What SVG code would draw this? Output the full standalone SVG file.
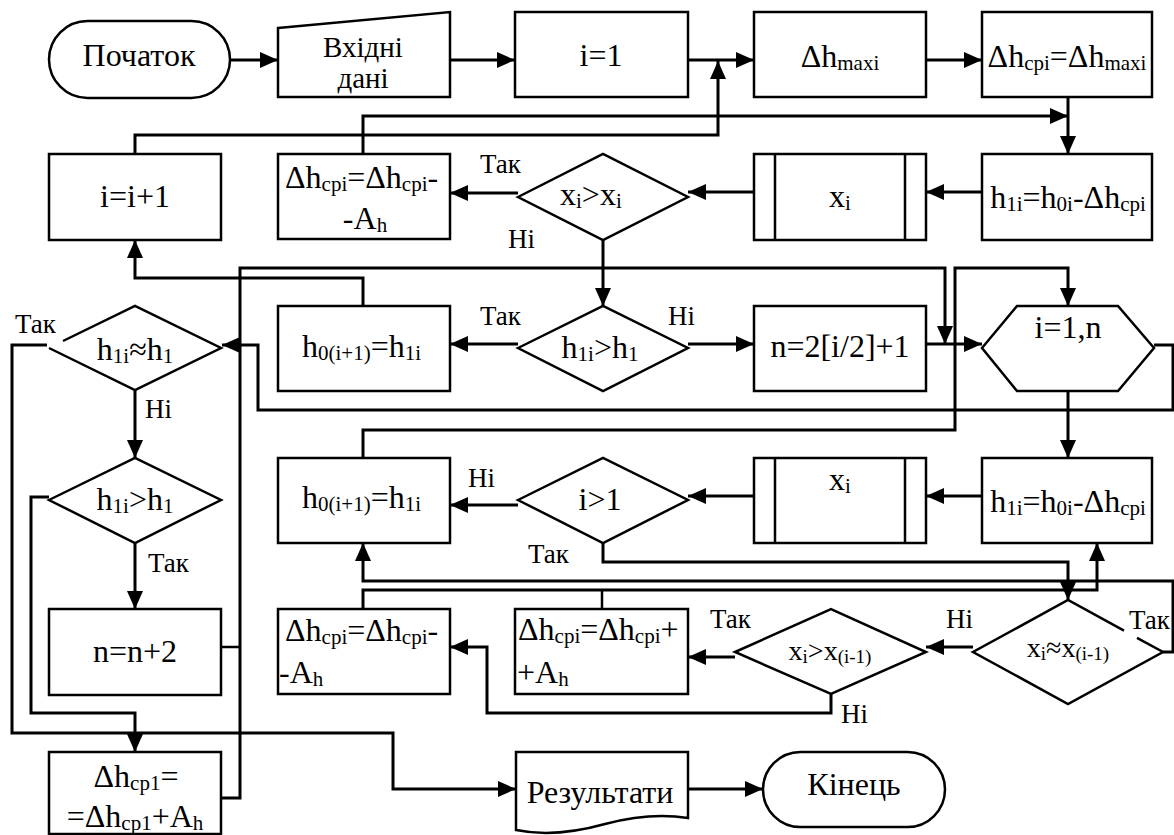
<svg xmlns="http://www.w3.org/2000/svg" width="1174" height="835" viewBox="0 0 1174 835">
  <style>
    .n { fill: #fff; stroke: #000; stroke-width: 2.5; }
    .c { fill: none; stroke: #000; stroke-width: 2.5; }
    .a { fill: none; stroke: #000; stroke-width: 3; marker-end: url(#ah); }
    .t { font-family: Liberation Serif, Times New Roman, Times, serif; font-size: 32px; fill: #000; }
    .m { text-anchor: middle; }
    .s { font-size: 21px; }
    .lb { font-size: 27px; }
    .sm { font-size: 28px; }
    .ss { font-size: 19px; }
  </style>
  <defs>
    <marker id="ah" markerUnits="userSpaceOnUse" markerWidth="18" markerHeight="16" refX="18" refY="8" orient="auto">
      <path d="M0,0 L18,8 L0,16 Z" fill="#000"/>
    </marker>
  </defs>

  <!-- connectors -->
  <g id="connectors">
    <path class="a" d="M230,60 H278"/>
    <path class="a" d="M450,60 H515"/>
    <path class="a" d="M688,60 H754"/>
    <path class="a" d="M926,60 H982"/>
    <path class="a" d="M135,154 V135 H718 V61"/>
    <path class="a" d="M1068,97 V154"/>
    <path class="a" d="M363,154 V116 H1068"/>
    <path class="a" d="M982,192 H926"/>
    <path class="a" d="M754,192 H688"/>
    <path class="a" d="M518,193 H450"/>
    <path class="a" d="M603,240 V306"/>
    <path class="a" d="M518,344 H450"/>
    <path class="a" d="M688,344 H754"/>
    <path class="a" d="M926,344 H982"/>
    <path class="a" d="M221,798 H240 V268 H945 V344"/>
    <path class="c" d="M221,647 H240"/>
    <path class="a" d="M363,458 V430 H955 V268 H1068 V306"/>
    <path class="a" d="M363,306 V278 H135 V240"/>
    <path class="a" d="M1154,345 H1173 V410 H258 V345 H222"/>
    <path class="a" d="M1068,391 V458"/>
    <path class="a" d="M982,496 H926"/>
    <path class="a" d="M754,496 H688"/>
    <path class="a" d="M518,505 H450"/>
    <path class="a" d="M603,543 V562 H1068 V600"/>
    <path class="a" d="M1163,652 H1173 V581 H363 V543"/>
    <path class="a" d="M363,609 V590 H1097 V543"/>
    <path class="c" d="M602,609 V590"/>
    <path class="a" d="M973,647 H926"/>
    <path class="a" d="M735,657 H688"/>
    <path class="a" d="M831,694 V713 H487 V647 H450"/>
    <path class="a" d="M135,390 V458"/>
    <path class="a" d="M135,543 V609"/>
    <path class="a" d="M47,345 H12 V733 H393 V789 H516"/>
    <path class="a" d="M49,497 H31 V713 H135 V752"/>
    <path class="a" d="M688,789 H763"/>
  </g>

  <!-- row 1 -->
  <g id="start">
    <rect class="n" x="49" y="21" width="181" height="77" rx="38.5"/>
    <text class="t m" x="139" y="66">Початок</text>
  </g>
  <g id="input">
    <path class="n" d="M278,28 L450,12 L450,97 L278,97 Z"/>
    <text class="t m" x="363" y="57" style="font-size:29px">Вхідні</text>
    <text class="t m" x="363" y="88" style="font-size:29px">дані</text>
  </g>
  <g id="init">
    <rect class="n" x="515" y="12" width="173" height="85"/>
    <text class="t m" x="601" y="66">i=1</text>
  </g>
  <g id="dhmax">
    <rect class="n" x="754" y="12" width="172" height="85"/>
    <text class="t m" x="840" y="67">Δh<tspan class="s" dy="3">maxi</tspan></text>
  </g>
  <g id="dhcp-set">
    <rect class="n" x="982" y="12" width="170" height="85"/>
    <text class="t m" x="1067" y="67">Δh<tspan class="s" dy="3">cpi</tspan><tspan dy="-3">=Δh</tspan><tspan class="s" dy="3">maxi</tspan></text>
  </g>

  <!-- row 2 -->
  <g id="inc-i">
    <rect class="n" x="49" y="154" width="172" height="86"/>
    <text class="t m" x="135" y="207">i=i+1</text>
  </g>
  <g id="dhcp-dec-1">
    <rect class="n" x="278" y="154" width="172" height="85"/>
    <text class="t" x="285" y="188">Δh<tspan class="s" dy="3">cpi</tspan><tspan dy="-3">=Δh</tspan><tspan class="s" dy="3">cpi</tspan><tspan dy="-3">-</tspan></text>
    <text class="t m" x="365" y="229">-A<tspan class="s" dy="3">h</tspan></text>
  </g>
  <g id="cmp-x-1">
    <polygon class="n" points="518,197 603,154 688,197 603,240"/>
    <text class="t" x="560" y="205">x<tspan class="s" dy="3">i</tspan><tspan dy="-3">&gt;x</tspan><tspan class="s" dy="3">i</tspan></text>
  </g>
  <g id="calc-x-1">
    <rect class="n" x="754" y="154" width="172" height="86"/>
    <path class="c" d="M775,154 V240 M905,154 V240"/>
    <text class="t m" x="840" y="207">x<tspan class="s" dy="3">i</tspan></text>
  </g>
  <g id="h1-1">
    <rect class="n" x="982" y="154" width="170" height="86"/>
    <text class="t m" x="1068" y="208">h<tspan class="s" dy="3">1i</tspan><tspan dy="-3">=h</tspan><tspan class="s" dy="3">0i</tspan><tspan dy="-3">-Δh</tspan><tspan class="s" dy="3">cpi</tspan></text>
  </g>

  <!-- row 3 -->
  <g id="cmp-h-approx">
    <path class="n" d="M63,341 L135,306 L221,348 L135,390 L49,348"/>
    <text class="t m" x="135" y="360">h<tspan class="s" dy="3">1i</tspan><tspan dy="-3">≈h</tspan><tspan class="s" dy="3">1</tspan></text>
  </g>
  <g id="h0-next-1">
    <rect class="n" x="278" y="306" width="172" height="85"/>
    <text class="t" x="302" y="357">h<tspan class="s" dy="3">0(i+1)</tspan><tspan dy="-3">=h</tspan><tspan class="s" dy="3">1i</tspan></text>
  </g>
  <g id="cmp-h-1">
    <polygon class="n" points="518,348 603,306 688,348 603,391"/>
    <text class="t m" x="600" y="358">h<tspan class="s" dy="3">1i</tspan><tspan dy="-3">&gt;h</tspan><tspan class="s" dy="3">1</tspan></text>
  </g>
  <g id="set-n">
    <rect class="n" x="754" y="306" width="172" height="85"/>
    <text class="t m" x="840" y="357">n=2[i/2]+1</text>
  </g>
  <g id="loop">
    <polygon class="n" points="982,348 1017,306 1118,306 1154,348 1118,391 1017,391"/>
    <text class="t m" x="1068" y="338">i=1,n</text>
  </g>

  <!-- row 4 -->
  <g id="cmp-h-2">
    <polygon class="n" points="49,500 135,458 221,500 135,543"/>
    <text class="t m" x="135" y="510">h<tspan class="s" dy="3">1i</tspan><tspan dy="-3">&gt;h</tspan><tspan class="s" dy="3">1</tspan></text>
  </g>
  <g id="h0-next-2">
    <rect class="n" x="278" y="458" width="172" height="85"/>
    <text class="t" x="302" y="508">h<tspan class="s" dy="3">0(i+1)</tspan><tspan dy="-3">=h</tspan><tspan class="s" dy="3">1i</tspan></text>
  </g>
  <g id="cmp-i">
    <polygon class="n" points="518,500 603,458 688,500 603,543"/>
    <text class="t m" x="600" y="510">i&gt;1</text>
  </g>
  <g id="calc-x-2">
    <rect class="n" x="754" y="458" width="172" height="85"/>
    <path class="c" d="M775,458 V543 M905,458 V543"/>
    <text class="t m" x="840" y="490">x<tspan class="s" dy="3">i</tspan></text>
  </g>
  <g id="h1-2">
    <rect class="n" x="982" y="458" width="170" height="85"/>
    <text class="t m" x="1068" y="512">h<tspan class="s" dy="3">1i</tspan><tspan dy="-3">=h</tspan><tspan class="s" dy="3">0i</tspan><tspan dy="-3">-Δh</tspan><tspan class="s" dy="3">cpi</tspan></text>
  </g>

  <!-- row 5 -->
  <g id="inc-n">
    <rect class="n" x="49" y="609" width="172" height="86"/>
    <text class="t m" x="135" y="662">n=n+2</text>
  </g>
  <g id="dhcp-dec-2">
    <rect class="n" x="278" y="609" width="172" height="85"/>
    <text class="t" x="285" y="641">Δh<tspan class="s" dy="3">cpi</tspan><tspan dy="-3">=Δh</tspan><tspan class="s" dy="3">cpi</tspan><tspan dy="-3">-</tspan></text>
    <text class="t" x="279" y="683">-A<tspan class="s" dy="3">h</tspan></text>
  </g>
  <g id="dhcp-inc">
    <rect class="n" x="515" y="609" width="173" height="85"/>
    <text class="t" x="518" y="640">Δh<tspan class="s" dy="3">cpi</tspan><tspan dy="-3">=Δh</tspan><tspan class="s" dy="3">cpi</tspan><tspan dy="-3">+</tspan></text>
    <text class="t" x="517" y="683">+A<tspan class="s" dy="3">h</tspan></text>
  </g>
  <g id="cmp-x-prev">
    <polygon class="n" points="735,652 831,609 926,652 831,694"/>
    <text class="t m sm" x="830" y="660">x<tspan class="ss" dy="3">i</tspan><tspan dy="-3">&gt;x</tspan><tspan class="ss" dy="3">(i-1)</tspan></text>
  </g>
  <g id="cmp-x-approx">
    <path class="n" d="M1137,637.8 L1163,652 L1068,704 L973,652 L1068,600 L1124,630.6"/>
    <text class="t m sm" x="1068" y="657">x<tspan class="ss" dy="3">i</tspan><tspan dy="-3">≈x</tspan><tspan class="ss" dy="3">(i-1)</tspan></text>
  </g>

  <!-- row 6 -->
  <g id="dhcp1-inc">
    <rect class="n" x="49" y="752" width="172" height="82"/>
    <text class="t m" x="136" y="787">Δh<tspan class="s" dy="3">cp1</tspan><tspan dy="-3">=</tspan></text>
    <text class="t m" x="135" y="827">=Δh<tspan class="s" dy="3">cp1</tspan><tspan dy="-3">+A</tspan><tspan class="s" dy="3">h</tspan></text>
  </g>
  <g id="results">
    <path class="n" d="M516,752 H688 V818 Q650,812 605,824 Q555,838 516,830 Z"/>
    <text class="t m" x="600" y="803">Результати</text>
  </g>
  <g id="end">
    <rect class="n" x="763" y="752" width="182" height="75" rx="37.5"/>
    <text class="t m" x="854" y="795">Кінець</text>
  </g>

  <!-- branch labels -->
  <g id="labels">
    <text class="t lb" x="480" y="173">Так</text>
    <text class="t lb" x="508" y="248">Ні</text>
    <text class="t lb" x="480" y="325">Так</text>
    <text class="t lb" x="668" y="325">Ні</text>
    <text class="t lb" x="15" y="333">Так</text>
    <text class="t lb" x="145" y="418">Ні</text>
    <text class="t lb" x="468" y="487">Ні</text>
    <text class="t lb" x="528" y="563">Так</text>
    <text class="t lb" x="148" y="572">Так</text>
    <text class="t lb" x="710" y="628">Так</text>
    <text class="t lb" x="946" y="628">Ні</text>
    <text class="t lb" x="1129" y="629">Так</text>
    <text class="t lb" x="841" y="723">Ні</text>
  </g>
</svg>
